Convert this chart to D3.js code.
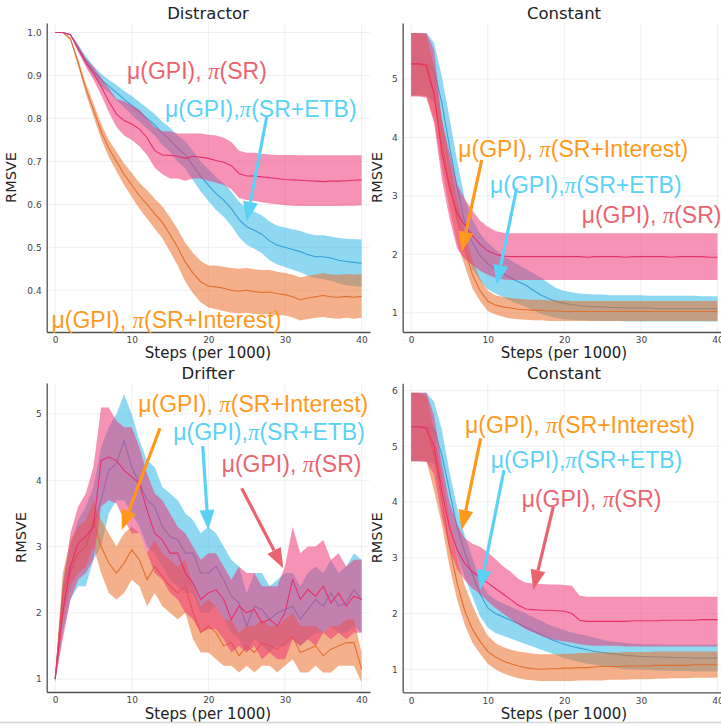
<!DOCTYPE html>
<html>
<head>
<meta charset="utf-8">
<script src="https://cdn.jsdelivr.net/npm/d3@7"></script>
<style>
  html, body { margin: 0; padding: 0; background: #fff; }
  svg { display: block; }
</style>
</head>
<body>
<svg id="chart" width="721" height="726"></svg>
<script>
// ---- training steps (per 1000) ----
const steps = [0,1,2,3,4,5,6,7,8,9,10,11,12,13,14,15,16,17,18,19,20,
               21,22,23,24,25,26,27,28,29,30,31,32,33,34,35,36,37,38,39,40];
const xTicks = [0, 10, 20, 30, 40];

// ---- Distractor ----
const distractorTicks = [0.4, 0.5, 0.6, 0.7, 0.8, 0.9, 1.0];
const distractorSRMean = [1.0,1.0,0.995,0.962,0.93,0.905,0.875,0.84,0.81,0.795,0.787,0.775,0.755,0.725,0.715,0.714,0.712,0.707,0.712,0.71,0.707,0.702,0.698,0.69,0.672,0.666,0.666,0.664,0.662,0.66,0.658,0.657,0.656,0.655,0.654,0.653,0.654,0.654,0.655,0.656,0.657];
const distractorSRLow  = [1.0,1.0,0.993,0.955,0.92,0.89,0.855,0.815,0.78,0.76,0.75,0.735,0.715,0.685,0.67,0.66,0.66,0.655,0.66,0.66,0.655,0.65,0.645,0.635,0.615,0.61,0.608,0.605,0.602,0.6,0.598,0.597,0.596,0.596,0.596,0.596,0.596,0.596,0.597,0.597,0.598];
const distractorSRHigh = [1.0,1.0,0.997,0.97,0.94,0.92,0.895,0.87,0.845,0.84,0.83,0.82,0.80,0.78,0.77,0.77,0.765,0.765,0.765,0.765,0.762,0.76,0.755,0.745,0.725,0.72,0.72,0.718,0.716,0.715,0.715,0.715,0.714,0.714,0.714,0.714,0.714,0.714,0.714,0.714,0.714];
const distractorETBMean = [1.0,1.0,0.995,0.965,0.935,0.91,0.89,0.875,0.86,0.845,0.83,0.815,0.80,0.785,0.765,0.75,0.73,0.715,0.69,0.665,0.645,0.625,0.61,0.59,0.565,0.548,0.54,0.53,0.515,0.505,0.50,0.495,0.49,0.483,0.478,0.478,0.475,0.47,0.467,0.465,0.463];
const distractorETBLow  = [1.0,1.0,0.993,0.958,0.925,0.898,0.876,0.86,0.842,0.826,0.808,0.792,0.776,0.76,0.738,0.722,0.7,0.683,0.656,0.63,0.608,0.587,0.571,0.55,0.524,0.506,0.497,0.486,0.47,0.46,0.454,0.448,0.442,0.434,0.428,0.426,0.422,0.416,0.412,0.41,0.408];
const distractorETBHigh = [1.0,1.0,0.997,0.972,0.945,0.922,0.904,0.89,0.878,0.864,0.852,0.838,0.824,0.81,0.792,0.778,0.76,0.747,0.724,0.7,0.682,0.663,0.649,0.63,0.606,0.59,0.583,0.574,0.56,0.55,0.546,0.542,0.538,0.532,0.528,0.528,0.525,0.522,0.52,0.519,0.518];
const distractorIntMean = [1.0,1.0,0.985,0.93,0.87,0.82,0.77,0.73,0.70,0.67,0.645,0.62,0.60,0.578,0.558,0.53,0.50,0.465,0.44,0.42,0.41,0.408,0.405,0.40,0.398,0.40,0.397,0.395,0.396,0.392,0.39,0.385,0.378,0.382,0.385,0.388,0.385,0.384,0.386,0.384,0.386];
const distractorIntLow  = [1.0,1.0,0.982,0.922,0.858,0.805,0.752,0.71,0.677,0.645,0.617,0.59,0.567,0.543,0.521,0.49,0.458,0.42,0.393,0.372,0.36,0.356,0.352,0.348,0.346,0.347,0.345,0.344,0.345,0.342,0.342,0.337,0.33,0.333,0.336,0.338,0.335,0.334,0.336,0.334,0.336];
const distractorIntHigh = [1.0,1.0,0.988,0.938,0.882,0.835,0.788,0.75,0.723,0.695,0.673,0.65,0.633,0.613,0.595,0.57,0.542,0.51,0.487,0.468,0.458,0.458,0.455,0.452,0.45,0.452,0.449,0.447,0.447,0.443,0.44,0.436,0.43,0.434,0.437,0.44,0.437,0.436,0.438,0.436,0.438];

// ---- Constant (top) ----
const constantATicks = [1, 2, 3, 4, 5];
const constantASRMean = [5.26,5.26,5.24,4.75,3.75,3.15,2.7,2.5,2.32,2.17,2.06,2.0,1.97,1.96,1.96,1.96,1.96,1.96,1.96,1.96,1.96,1.96,1.96,1.95,1.96,1.96,1.96,1.96,1.95,1.96,1.96,1.96,1.96,1.96,1.95,1.96,1.96,1.96,1.96,1.95,1.95];
const constantASRLow  = [4.70,4.70,4.68,4.25,3.3,2.62,2.1,1.92,1.82,1.72,1.65,1.6,1.57,1.56,1.56,1.56,1.56,1.56,1.56,1.56,1.56,1.56,1.56,1.56,1.56,1.56,1.56,1.56,1.56,1.56,1.56,1.56,1.56,1.56,1.56,1.56,1.56,1.56,1.56,1.56,1.56];
const constantASRHigh = [5.79,5.79,5.79,5.5,4.3,3.75,3.2,2.95,2.75,2.58,2.47,2.4,2.37,2.36,2.36,2.36,2.36,2.36,2.36,2.36,2.36,2.36,2.36,2.36,2.36,2.36,2.36,2.36,2.36,2.36,2.36,2.36,2.36,2.36,2.36,2.36,2.36,2.36,2.36,2.36,2.36];
const constantAETBMean = [5.26,5.26,5.25,5.15,4.6,3.85,3.15,2.55,2.2,1.98,1.84,1.75,1.67,1.6,1.53,1.47,1.38,1.3,1.24,1.19,1.16,1.14,1.12,1.11,1.1,1.1,1.09,1.09,1.08,1.08,1.08,1.08,1.07,1.07,1.07,1.07,1.07,1.07,1.07,1.07,1.07];
const constantAETBLow  = [4.72,4.72,4.72,4.6,4.0,3.3,2.6,2.1,1.75,1.55,1.4,1.33,1.27,1.2,1.15,1.1,1.04,0.98,0.94,0.91,0.89,0.88,0.87,0.87,0.86,0.86,0.86,0.86,0.85,0.85,0.85,0.85,0.85,0.85,0.85,0.85,0.85,0.85,0.85,0.85,0.85];
const constantAETBHigh = [5.79,5.79,5.79,5.62,5.05,4.35,3.6,2.95,2.6,2.35,2.2,2.08,1.98,1.9,1.82,1.75,1.67,1.6,1.5,1.42,1.37,1.35,1.33,1.32,1.31,1.31,1.3,1.3,1.3,1.3,1.3,1.29,1.29,1.29,1.29,1.29,1.29,1.29,1.28,1.28,1.28];
const constantAIntMean = [5.26,5.26,5.2,4.7,3.9,3.2,2.6,2.1,1.65,1.38,1.2,1.13,1.1,1.08,1.06,1.05,1.04,1.04,1.03,1.03,1.02,1.02,1.02,1.02,1.02,1.02,1.02,1.02,1.02,1.02,1.02,1.02,1.02,1.02,1.02,1.02,1.02,1.02,1.02,1.02,1.02];
const constantAIntLow  = [4.72,4.72,4.7,4.3,3.5,2.8,2.2,1.8,1.42,1.2,1.03,0.97,0.93,0.9,0.89,0.88,0.87,0.87,0.86,0.86,0.86,0.86,0.86,0.86,0.86,0.86,0.86,0.86,0.86,0.86,0.86,0.86,0.86,0.86,0.86,0.86,0.86,0.86,0.86,0.86,0.86];
const constantAIntHigh = [5.79,5.79,5.75,5.2,4.35,3.6,2.95,2.4,1.9,1.58,1.38,1.3,1.27,1.25,1.24,1.23,1.22,1.22,1.21,1.21,1.21,1.2,1.2,1.2,1.2,1.2,1.2,1.2,1.2,1.2,1.2,1.2,1.2,1.2,1.2,1.2,1.2,1.2,1.2,1.2,1.2];

// ---- Drifter ----
const drifterTicks = [1, 2, 3, 4, 5];
const drifterSRMean = [1.0,2.0,2.7,3.05,3.15,3.3,4.3,4.35,4.3,4.15,4.05,3.95,3.55,3.2,3.1,2.9,2.9,2.6,2.45,2.2,2.3,2.35,2.2,1.9,2.1,2.0,2.05,1.85,1.9,1.8,2.0,2.5,2.2,2.35,2.25,2.4,2.15,2.3,2.1,2.25,2.2];
const drifterSRLow  = [0.95,1.6,2.2,2.5,2.6,2.8,3.6,3.7,3.65,3.4,3.2,3.2,2.9,2.6,2.5,2.3,2.2,2.0,1.9,1.7,1.75,1.75,1.6,1.4,1.5,1.4,1.5,1.3,1.4,1.3,1.3,1.6,1.5,1.6,1.5,1.7,1.6,1.7,1.6,1.7,1.7];
const drifterSRHigh = [1.05,2.4,3.2,3.6,3.8,4.2,5.1,5.1,4.9,4.8,4.8,4.5,4.1,3.8,3.7,3.5,3.3,3.2,3.0,2.8,2.9,2.9,2.7,2.5,2.7,2.6,2.6,2.4,2.4,2.4,2.7,3.3,2.9,3.0,3.0,3.1,2.8,2.9,2.7,2.8,2.8];
const drifterETBMean = [1.0,2.1,2.6,2.9,3.0,3.3,3.7,4.15,4.25,4.6,4.2,3.95,3.7,3.6,3.3,3.15,3.1,2.9,2.9,2.6,2.6,2.7,2.5,2.25,2.15,1.8,2.1,2.05,1.9,2.0,2.05,2.1,1.9,2.05,2.2,2.1,2.3,2.1,2.15,2.35,2.2];
const drifterETBLow  = [0.95,1.7,2.2,2.4,2.4,2.8,3.0,3.5,3.7,3.7,3.5,3.3,3.0,2.9,2.7,2.5,2.4,2.3,2.3,2.0,2.0,2.1,1.9,1.7,1.6,1.4,1.6,1.5,1.4,1.5,1.5,1.6,1.5,1.6,1.7,1.7,1.8,1.7,1.7,1.8,1.7];
const drifterETBHigh = [1.05,2.5,3.0,3.4,3.6,3.9,4.5,4.8,5.0,5.3,5.0,4.6,4.3,4.2,3.9,3.8,3.7,3.5,3.4,3.2,3.3,3.2,3.0,2.8,2.7,2.3,2.6,2.6,2.4,2.5,2.6,2.6,2.4,2.6,2.7,2.6,2.8,2.6,2.7,2.9,2.8];
const drifterIntMean = [1.0,2.3,2.7,2.9,3.0,3.4,3.0,2.75,2.6,2.75,2.95,2.8,2.5,2.7,2.55,2.4,2.3,2.4,2.0,1.7,1.8,1.7,1.5,1.55,1.35,1.5,1.4,1.55,1.5,1.45,1.55,1.65,1.4,1.45,1.5,1.35,1.45,1.5,1.55,1.55,1.15];
const drifterIntLow  = [0.95,1.9,2.4,2.6,2.7,3.0,2.6,2.3,2.2,2.3,2.5,2.4,2.1,2.3,2.1,2.0,1.9,2.0,1.6,1.4,1.4,1.3,1.2,1.2,1.1,1.2,1.1,1.2,1.2,1.1,1.2,1.3,1.1,1.1,1.2,1.1,1.1,1.2,1.2,1.2,0.95];
const drifterIntHigh = [1.05,2.6,3.1,3.3,3.4,3.7,3.4,3.2,3.0,3.2,3.3,3.2,2.9,3.1,2.9,2.8,2.7,2.8,2.4,2.1,2.2,2.1,1.9,1.9,1.7,1.8,1.8,1.9,1.8,1.8,1.9,2.0,1.8,1.8,1.8,1.7,1.8,1.8,1.9,1.9,1.4];

// ---- Constant (bottom) ----
const constantBTicks = [1, 2, 3, 4, 5, 6];
const constantBSRMean = [5.35,5.35,5.33,5.0,4.2,3.55,3.15,2.9,2.75,2.65,2.55,2.45,2.35,2.25,2.15,2.08,2.07,2.06,2.06,2.05,2.04,2.0,1.88,1.86,1.86,1.86,1.86,1.86,1.86,1.87,1.87,1.87,1.87,1.88,1.88,1.88,1.88,1.88,1.89,1.89,1.89];
const constantBSRLow  = [4.73,4.73,4.72,4.5,3.75,3.15,2.8,2.6,2.45,2.35,2.22,2.1,2.0,1.9,1.8,1.72,1.66,1.6,1.55,1.52,1.5,1.48,1.45,1.43,1.42,1.42,1.42,1.42,1.41,1.41,1.41,1.41,1.41,1.41,1.41,1.41,1.41,1.41,1.41,1.41,1.41];
const constantBSRHigh = [5.96,5.96,5.96,5.55,4.7,4.0,3.6,3.35,3.25,3.2,3.1,2.98,2.85,2.75,2.62,2.55,2.54,2.53,2.52,2.52,2.51,2.5,2.32,2.3,2.3,2.3,2.3,2.3,2.3,2.3,2.3,2.3,2.3,2.3,2.3,2.3,2.3,2.3,2.3,2.3,2.3];
const constantBETBMean = [5.35,5.35,5.34,5.3,4.85,4.2,3.55,3.1,2.7,2.35,2.1,2.0,1.94,1.88,1.82,1.75,1.68,1.62,1.55,1.5,1.45,1.41,1.38,1.35,1.32,1.3,1.28,1.27,1.25,1.24,1.23,1.23,1.22,1.22,1.21,1.21,1.21,1.2,1.2,1.2,1.2];
const constantBETBLow  = [4.73,4.73,4.73,4.7,4.3,3.65,3.05,2.65,2.3,1.95,1.75,1.65,1.6,1.55,1.5,1.45,1.4,1.35,1.3,1.25,1.2,1.16,1.13,1.1,1.08,1.06,1.04,1.02,1.0,1.0,0.99,0.99,0.98,0.98,0.97,0.97,0.97,0.96,0.96,0.96,0.96];
const constantBETBHigh = [5.96,5.96,5.96,5.8,5.3,4.55,3.9,3.4,3.0,2.6,2.35,2.25,2.18,2.12,2.06,2.0,1.93,1.87,1.8,1.75,1.7,1.66,1.63,1.6,1.56,1.53,1.5,1.49,1.47,1.46,1.45,1.45,1.45,1.44,1.44,1.44,1.44,1.44,1.44,1.44,1.44];
const constantBIntMean = [5.35,5.35,5.3,4.85,4.05,3.2,2.55,2.05,1.72,1.5,1.32,1.22,1.15,1.1,1.06,1.03,1.01,1.0,1.01,1.01,1.02,1.02,1.03,1.03,1.04,1.05,1.05,1.05,1.06,1.06,1.06,1.06,1.07,1.07,1.07,1.07,1.07,1.08,1.08,1.08,1.08];
const constantBIntLow  = [4.73,4.73,4.73,4.2,3.6,2.85,2.25,1.8,1.48,1.28,1.1,1.0,0.93,0.88,0.84,0.81,0.8,0.79,0.79,0.79,0.79,0.79,0.8,0.8,0.8,0.8,0.81,0.81,0.81,0.82,0.82,0.82,0.83,0.83,0.84,0.84,0.84,0.85,0.85,0.85,0.85];
const constantBIntHigh = [5.96,5.96,5.9,5.3,4.5,3.7,3.0,2.5,2.15,1.85,1.6,1.47,1.4,1.35,1.32,1.3,1.28,1.27,1.27,1.27,1.28,1.28,1.29,1.29,1.3,1.3,1.3,1.3,1.31,1.31,1.31,1.31,1.32,1.32,1.32,1.32,1.32,1.32,1.32,1.32,1.32];

// ---- styling ----
const colors = {
  sr:  { fill: "#ed3978", line: "#e6306e", text: "#ea6470" },
  etb: { fill: "#33b8e8", line: "#3a9fd6", text: "#5ad2f6" },
  int: { fill: "#eb6f2a", line: "#e0702e", text: "#ff991c" }
};
const bandOpacity = 0.55;

const svg = d3.select("#chart");
const defs = svg.append("defs");
const sansFont = "'DejaVu Sans', sans-serif";
const noteFont = "'Liberation Sans', Arial, sans-serif";
const mathFont = "'Liberation Serif', 'DejaVu Serif', serif";

// straight arrow: shaft plus a filled triangular head
function arrow(g, x1, y1, x2, y2, color) {
  const ang = Math.atan2(y2 - y1, x2 - x1);
  const headLen = 20, headHalf = 7.5;
  const bx = x2 - headLen * Math.cos(ang), by = y2 - headLen * Math.sin(ang);
  g.append("line")
    .attr("x1", x1).attr("y1", y1).attr("x2", bx).attr("y2", by)
    .attr("stroke", color).attr("stroke-width", 3.2);
  const px = -Math.sin(ang), py = Math.cos(ang);
  g.append("path")
    .attr("d", `M${x2},${y2}L${bx + px * headHalf},${by + py * headHalf}L${bx - px * headHalf},${by - py * headHalf}Z`)
    .attr("fill", color);
}

// label of the form  μ(GPI), π(...)
function note(g, x, y, prefix, suffix, color) {
  const t = g.append("text").attr("x", x).attr("y", y)
    .attr("fill", color).attr("font-size", 23).attr("font-family", noteFont);
  t.append("tspan").text(prefix);
  t.append("tspan").attr("font-family", mathFont).attr("font-style", "italic").text("π");
  t.append("tspan").text(suffix);
}

let clipCount = 0;
function drawPanel(cfg) {
  const g = svg.append("g");
  const x = d3.scaleLinear().domain([-1.1, 41.1]).range([cfg.left, cfg.right]);
  const y = d3.scaleLinear().domain(cfg.yDomain).range([cfg.bottom, cfg.top]);

  const clipId = "clip" + (clipCount++);
  defs.append("clipPath").attr("id", clipId).append("rect")
    .attr("x", cfg.left).attr("y", cfg.top - 2)
    .attr("width", cfg.clipRight - cfg.left).attr("height", cfg.bottom - cfg.top + 2);

  // grid
  const grid = g.append("g").attr("stroke", "#ececec").attr("stroke-width", 0.8);
  grid.selectAll("line.h").data(cfg.yTicks).join("line").attr("class", "h")
    .attr("x1", cfg.left).attr("x2", cfg.right)
    .attr("y1", d => y(d)).attr("y2", d => y(d));
  grid.selectAll("line.v").data(xTicks).join("line").attr("class", "v")
    .attr("x1", d => x(d)).attr("x2", d => x(d))
    .attr("y1", cfg.top).attr("y2", cfg.bottom);

  // ribbons and mean curves
  const plot = g.append("g").attr("clip-path", `url(#${clipId})`);
  cfg.series.forEach(s => {
    const area = d3.area()
      .x((d, i) => x(steps[i]))
      .y0((d, i) => y(s.low[i]))
      .y1((d, i) => y(s.high[i]));
    const line = d3.line()
      .x((d, i) => x(steps[i]))
      .y(d => y(d));
    plot.append("path").datum(s.mean).attr("d", area)
      .attr("fill", s.color.fill).attr("fill-opacity", bandOpacity);
    plot.append("path").datum(s.mean).attr("d", line)
      .attr("fill", "none").attr("stroke", s.color.line).attr("stroke-width", 1.1);
  });

  // axes
  const xAxis = g.append("g").attr("transform", `translate(0,${cfg.bottom})`)
    .call(d3.axisBottom(x).tickValues(xTicks).tickSize(0).tickPadding(5));
  const yAxis = g.append("g").attr("transform", `translate(${cfg.left},0)`)
    .call(d3.axisLeft(y).tickValues(cfg.yTicks).tickFormat(d3.format(cfg.fmt)).tickSize(0).tickPadding(5));
  [xAxis, yAxis].forEach(a => {
    a.select(".domain").attr("stroke", "#505050").attr("stroke-width", 1.3);
    a.selectAll("text").attr("font-family", sansFont).attr("font-size", 9).attr("fill", "#444");
  });

  // titles
  g.append("text").attr("x", cfg.titleX).attr("y", cfg.top - 4)
    .attr("text-anchor", "middle").attr("font-family", sansFont).attr("font-size", 16.5)
    .attr("fill", "#222").text(cfg.title);
  g.append("text").attr("x", cfg.titleX).attr("y", cfg.bottom + cfg.xlabelGap)
    .attr("text-anchor", "middle").attr("font-family", sansFont).attr("font-size", 15)
    .attr("fill", "#222").text("Steps (per 1000)");
  g.append("text")
    .attr("transform", `translate(${cfg.ylabelX},${(cfg.top + cfg.bottom) / 2}) rotate(-90)`)
    .attr("text-anchor", "middle").attr("font-family", sansFont).attr("font-size", 14.5)
    .attr("fill", "#222").text("RMSVE");

  const ann = g.append("g");
  cfg.notes.forEach(n => note(ann, n.x, n.y, n.pre, n.post, n.color));
  cfg.arrows.forEach(a => arrow(ann, a[0], a[1], a[2], a[3], a[4]));
}

const SR = colors.sr.text, ETB = colors.etb.text, INT = colors.int.text;

drawPanel({
  title: "Distractor", titleX: 208, xlabelGap: 26,
  left: 46.7, right: 370, clipRight: 372, top: 23, bottom: 332,
  yDomain: [0.303, 1.022], yTicks: distractorTicks, fmt: ".1f", ylabelX: 16,
  series: [
    { color: colors.etb, mean: distractorETBMean, low: distractorETBLow, high: distractorETBHigh },
    { color: colors.int, mean: distractorIntMean, low: distractorIntLow, high: distractorIntHigh },
    { color: colors.sr,  mean: distractorSRMean,  low: distractorSRLow,  high: distractorSRHigh }
  ],
  notes: [
    { x: 127, y: 78.5, pre: "μ(GPI), ", post: "(SR)", color: SR },
    { x: 165, y: 116.5, pre: "μ(GPI),", post: "(SR+ETB)", color: ETB },
    { x: 51.5, y: 328, pre: "μ(GPI), ", post: "(SR+Interest)", color: INT }
  ],
  arrows: [[266.7, 117, 246.7, 221.7, ETB]]
});

drawPanel({
  title: "Constant", titleX: 564, xlabelGap: 26,
  left: 402.7, right: 725.9, clipRight: 726, top: 23, bottom: 332,
  yDomain: [0.67, 5.96], yTicks: constantATicks, fmt: "d", ylabelX: 382,
  series: [
    { color: colors.etb, mean: constantAETBMean, low: constantAETBLow, high: constantAETBHigh },
    { color: colors.int, mean: constantAIntMean, low: constantAIntLow, high: constantAIntHigh },
    { color: colors.sr,  mean: constantASRMean,  low: constantASRLow,  high: constantASRHigh }
  ],
  notes: [
    { x: 458.3, y: 156.5, pre: "μ(GPI), ", post: "(SR+Interest)", color: INT },
    { x: 490, y: 193, pre: "μ(GPI),", post: "(SR+ETB)", color: ETB },
    { x: 581.7, y: 223, pre: "μ(GPI), ", post: "(SR)", color: SR }
  ],
  arrows: [[481.7, 160, 461.7, 251.7, INT], [516.7, 188.3, 496.7, 285, ETB]]
});

drawPanel({
  title: "Drifter", titleX: 208, xlabelGap: 26.5,
  left: 46.7, right: 370, clipRight: 372, top: 383, bottom: 692,
  yDomain: [0.804, 5.468], yTicks: drifterTicks, fmt: "d", ylabelX: 26,
  series: [
    { color: colors.etb, mean: drifterETBMean, low: drifterETBLow, high: drifterETBHigh },
    { color: colors.int, mean: drifterIntMean, low: drifterIntLow, high: drifterIntHigh },
    { color: colors.sr,  mean: drifterSRMean,  low: drifterSRLow,  high: drifterSRHigh }
  ],
  notes: [
    { x: 138.3, y: 411.5, pre: "μ(GPI), ", post: "(SR+Interest)", color: INT },
    { x: 173.3, y: 440, pre: "μ(GPI),", post: "(SR+ETB)", color: ETB },
    { x: 221.7, y: 471.5, pre: "μ(GPI), ", post: "(SR)", color: SR }
  ],
  arrows: [[160, 428.3, 121.7, 530, INT], [202.7, 446, 208.3, 530, ETB], [241.7, 488.3, 283.3, 568.3, SR]]
});

drawPanel({
  title: "Constant", titleX: 564, xlabelGap: 26.2,
  left: 402.7, right: 725.9, clipRight: 726, top: 383.3, bottom: 692.3,
  yDomain: [0.587, 6.13], yTicks: constantBTicks, fmt: "d", ylabelX: 382,
  series: [
    { color: colors.etb, mean: constantBETBMean, low: constantBETBLow, high: constantBETBHigh },
    { color: colors.int, mean: constantBIntMean, low: constantBIntLow, high: constantBIntHigh },
    { color: colors.sr,  mean: constantBSRMean,  low: constantBSRLow,  high: constantBSRHigh }
  ],
  notes: [
    { x: 465, y: 433, pre: "μ(GPI), ", post: "(SR+Interest)", color: INT },
    { x: 490.7, y: 468, pre: "μ(GPI),", post: "(SR+ETB)", color: ETB },
    { x: 521.7, y: 506.5, pre: "μ(GPI), ", post: "(SR)", color: SR }
  ],
  arrows: [[480.7, 438.3, 461.7, 530, INT], [504, 470, 480, 590, ETB], [553.3, 506.7, 533.3, 590, SR]]
});

// thin frame line under the lower row
svg.append("line").attr("x1", 0).attr("x2", 721).attr("y1", 722.5).attr("y2", 722.5)
  .attr("stroke", "#d4d4d4").attr("stroke-width", 1.5);
</script>
</body>
</html>
